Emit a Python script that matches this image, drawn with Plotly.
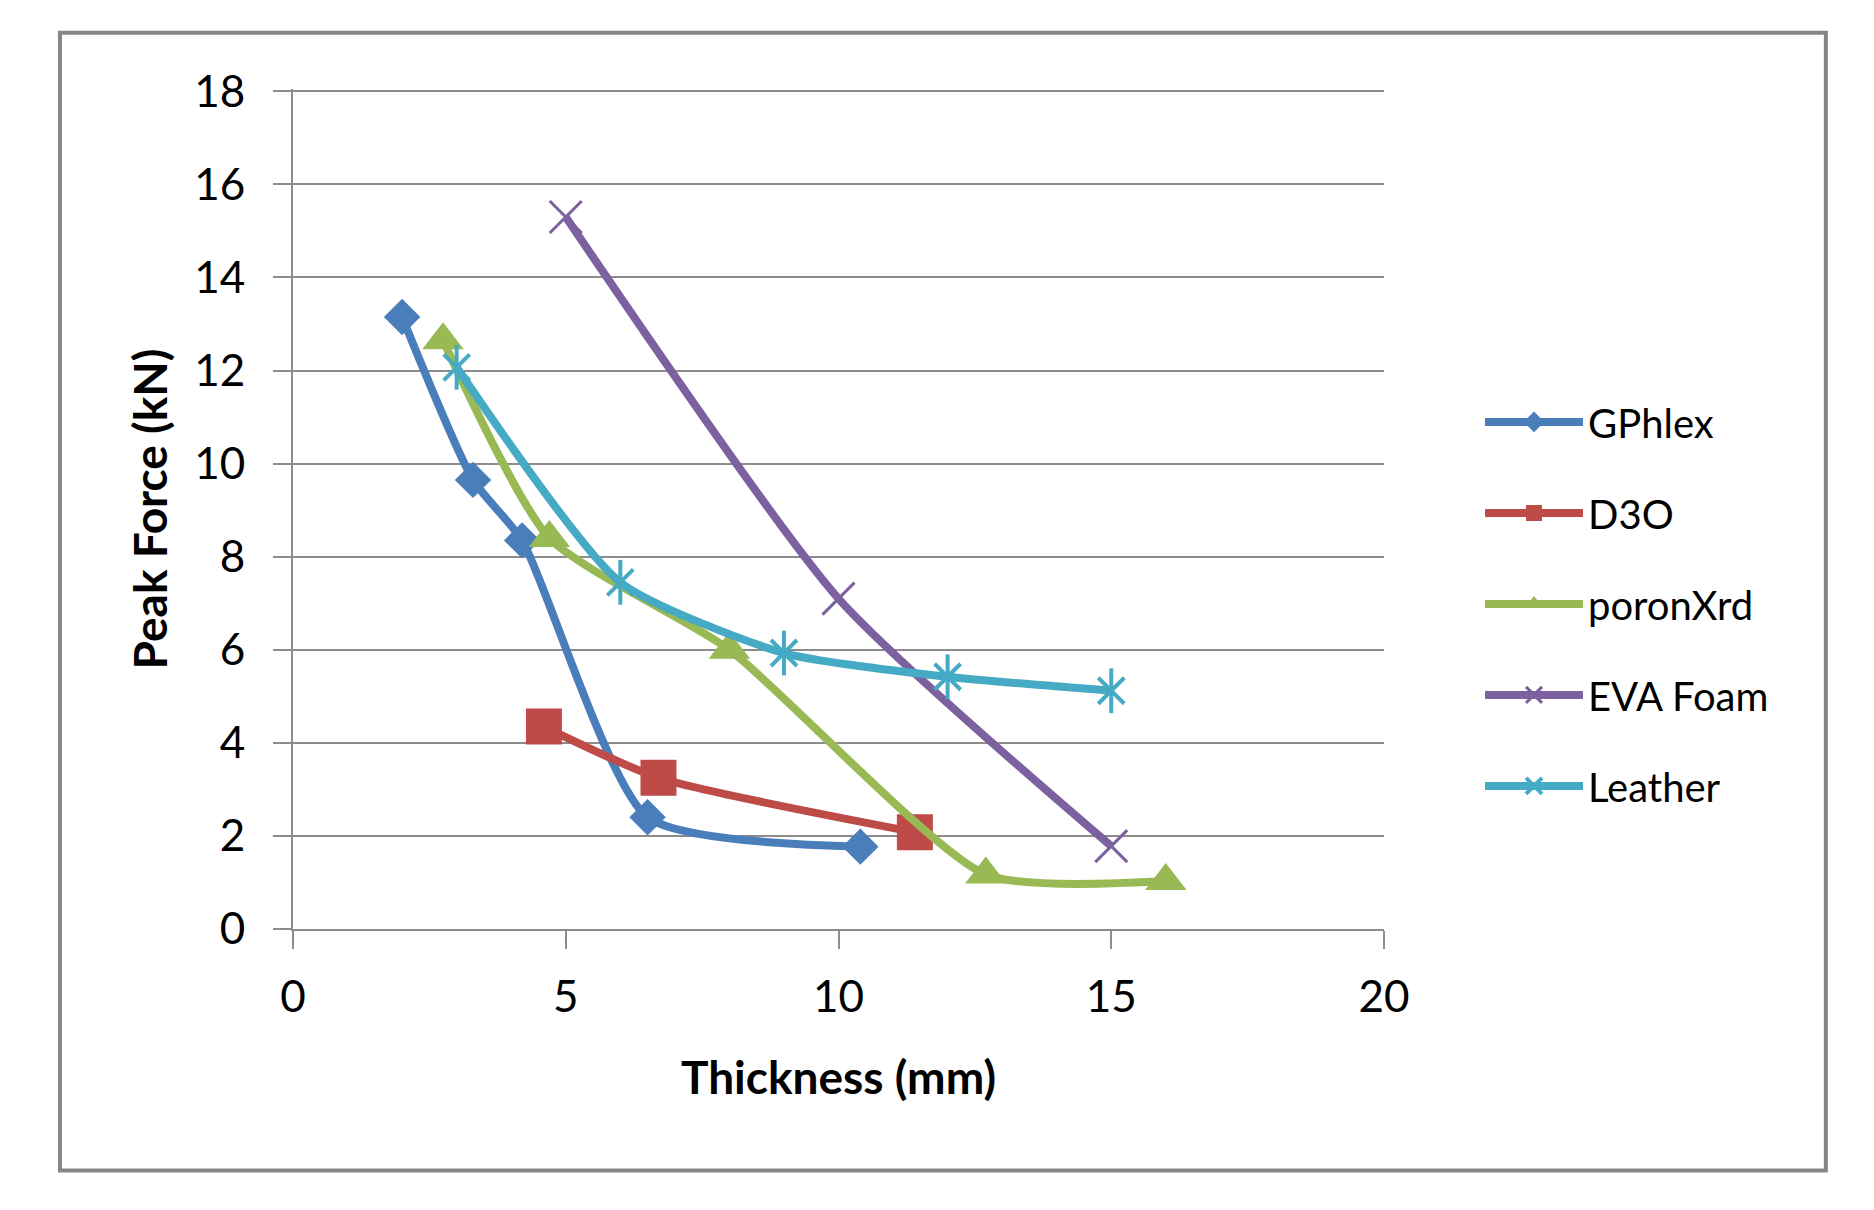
import plotly.graph_objects as go

# ---- data ----
gphlex_x = [2.0, 3.3, 4.2, 6.5, 10.4]
gphlex_y = [13.15, 9.65, 8.35, 2.4, 1.77]

d3o_x = [4.6, 6.7, 11.4]
d3o_y = [4.35, 3.25, 2.08]

poron_x = [2.75, 4.7, 8.0, 12.7, 16.0]
poron_y = [12.65, 8.4, 6.0, 1.17, 1.03]

eva_x = [5.0, 10.0, 15.0]
eva_y = [15.3, 7.1, 1.78]

leather_x = [3.0, 6.0, 9.0, 12.0, 15.0]
leather_y = [12.07, 7.45, 5.93, 5.42, 5.12]

series_names = ["GPhlex", "D3O", "poronXrd", "EVA Foam", "Leather"]
x_ticks = [0, 5, 10, 15, 20]
y_ticks = [0, 2, 4, 6, 8, 10, 12, 14, 16, 18]

FONT = "Lato"
GRID = "#8c8c8c"

fig = go.Figure()

def add(name, xs, ys, color, symbol, size, mline=0, group=None):
    fig.add_trace(go.Scatter(
        x=xs, y=ys, name=name, mode="lines+markers",
        legendgroup=group or name,
        line=dict(color=color, width=8, shape="spline", smoothing=0.6),
        marker=dict(symbol=symbol, size=size, color=color,
                    line=dict(color=color, width=mline)),
    ))

add(series_names[0], gphlex_x, gphlex_y, "#4A7EBB", "diamond", 28)
add(series_names[1], d3o_x, d3o_y, "#BE4B48", "square", 36)
add(series_names[2], poron_x, poron_y, "#98B954", "triangle-up", 36)
add(series_names[3], eva_x, eva_y, "#7D60A0", "x-thin-open", 32, mline=3)
add(series_names[4], leather_x, leather_y, "#46AAC5", "x-thin-open", 26, mline=4)
# vertical stroke of the Excel-style asterisk
fig.add_trace(go.Scatter(
    x=leather_x, y=leather_y, mode="markers", showlegend=False,
    legendgroup=series_names[4], hoverinfo="skip",
    marker=dict(symbol="line-ns-open", size=32, color="#46AAC5",
                line=dict(color="#46AAC5", width=4)),
))

fig.update_layout(
    width=1874, height=1210,
    paper_bgcolor="white", plot_bgcolor="white",
    margin=dict(l=293, r=490, t=89, b=281, autoexpand=False),
    font=dict(family=FONT, color="black"),
    showlegend=True,
    legend=dict(
        x=1.088, y=0.387, xanchor="left", yanchor="middle",
        font=dict(family=FONT, size=40, color="black"),
        itemwidth=98, tracegroupgap=36, bgcolor="rgba(0,0,0,0)",
    ),
    xaxis=dict(
        range=[0, 20], tickvals=x_ticks, showgrid=False, zeroline=False,
        showline=True, linecolor=GRID, linewidth=2,
        ticks="outside", ticklen=18, tickwidth=2, tickcolor=GRID,
        tickfont=dict(family=FONT, size=44, color="black"),
        ticklabelstandoff=10,
        title=dict(text="Thickness (mm)", standoff=42,
                   font=dict(family=FONT, size=46, color="black", weight="bold")),
    ),
    yaxis=dict(
        range=[0, 18.05], tickvals=y_ticks, showgrid=True, gridcolor=GRID, gridwidth=2,
        zeroline=False, showline=True, linecolor=GRID, linewidth=2,
        ticks="outside", ticklen=18, tickwidth=2, tickcolor=GRID,
        tickfont=dict(family=FONT, size=44, color="black"),
        ticklabelstandoff=19,
        title=dict(text="Peak Force (kN)", standoff=12,
                   font=dict(family=FONT, size=46, color="black", weight="bold")),
    ),
    shapes=[dict(type="rect", xref="paper", yref="paper",
                 x0=-0.2136, x1=1.405, y0=-0.2876, y1=1.067,
                 line=dict(color="#868686", width=4), layer="below")],
)

fig.write_html("out.html")
